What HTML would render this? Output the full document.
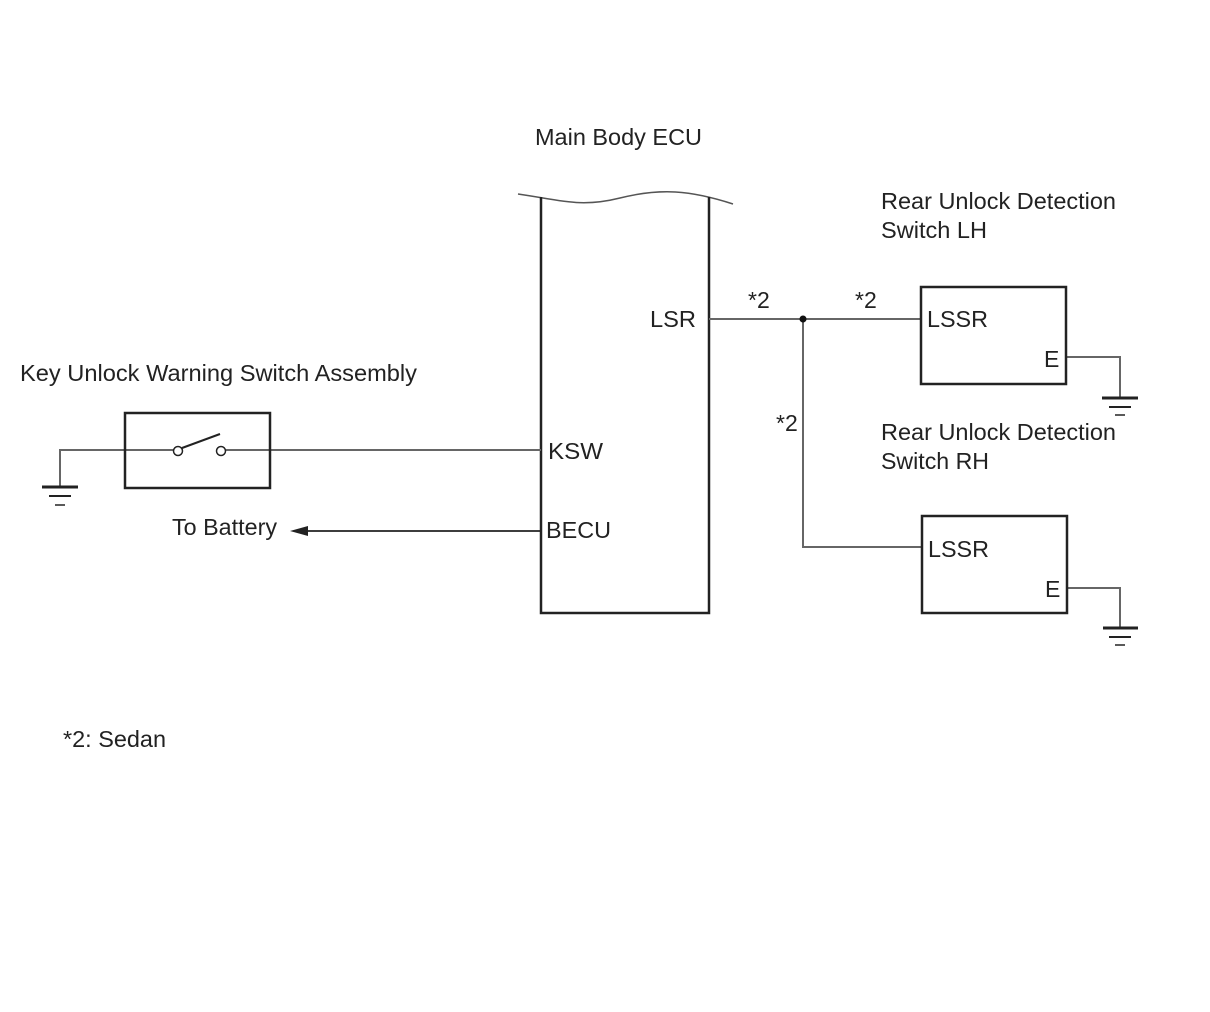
<!DOCTYPE html>
<html><head><meta charset="utf-8"><style>
html,body{margin:0;padding:0;background:#fff;}
svg{display:block;}
text{font-family:"Liberation Sans",Arial,sans-serif;font-size:23px;fill:#222;}
</style></head><body>
<svg width="1210" height="1012" viewBox="0 0 1210 1012" xmlns="http://www.w3.org/2000/svg">
<rect width="1210" height="1012" fill="#fff"/>
<!-- ECU -->
<path d="M518 194 C560 200,580 208,620 198 S690 190,733 204" fill="none" stroke="#555" stroke-width="1.5"/>
<path d="M541 197 V613 H709 V197" fill="none" stroke="#222" stroke-width="2.5"/>
<text x="535" y="145" textLength="167" lengthAdjust="spacingAndGlyphs">Main Body ECU</text>
<text x="650" y="327" textLength="46" lengthAdjust="spacingAndGlyphs">LSR</text>
<text x="548" y="459" textLength="55" lengthAdjust="spacingAndGlyphs">KSW</text>
<text x="546" y="538" textLength="65" lengthAdjust="spacingAndGlyphs">BECU</text>
<!-- wiring -->
<g stroke="#666" stroke-width="2" fill="none">
<path d="M709 319 H921"/>
<path d="M803 319 V547 H922"/>
<path d="M1066 357 H1120 V398"/>
<path d="M1067 588 H1120 V628"/>
<path d="M60 487 V450 H174 M226 450 H541"/>
</g>
<circle cx="803" cy="319" r="3.5" fill="#111"/>
<text x="748" y="308" font-size="20">*2</text>
<text x="855" y="308" font-size="20">*2</text>
<text x="776" y="431" font-size="20">*2</text>
<!-- LH box -->
<rect x="921" y="287" width="145" height="97" fill="none" stroke="#222" stroke-width="2.5"/>
<text x="927" y="327" textLength="61" lengthAdjust="spacingAndGlyphs">LSSR</text>
<text x="1044" y="367">E</text>
<text x="881" y="209" textLength="235" lengthAdjust="spacingAndGlyphs">Rear Unlock Detection</text>
<text x="881" y="238" textLength="106" lengthAdjust="spacingAndGlyphs">Switch LH</text>
<!-- RH box -->
<rect x="922" y="516" width="145" height="97" fill="none" stroke="#222" stroke-width="2.5"/>
<text x="928" y="557" textLength="61" lengthAdjust="spacingAndGlyphs">LSSR</text>
<text x="1045" y="597">E</text>
<text x="881" y="440" textLength="235" lengthAdjust="spacingAndGlyphs">Rear Unlock Detection</text>
<text x="881" y="469" textLength="108" lengthAdjust="spacingAndGlyphs">Switch RH</text>
<!-- grounds -->
<g stroke="#222">
<path d="M1102 398 H1138" stroke-width="3"/><path d="M1109 407 H1131" stroke-width="2"/><path d="M1115 415 H1125" stroke-width="1.5"/>
<path d="M1103 628 H1138" stroke-width="3"/><path d="M1109 637 H1131" stroke-width="2"/><path d="M1115 645 H1125" stroke-width="1.5"/>
<path d="M42 487 H78" stroke-width="3"/><path d="M49 496 H71" stroke-width="2"/><path d="M55 505 H65" stroke-width="1.5"/>
</g>
<!-- key switch -->
<rect x="125" y="413" width="145" height="75" fill="none" stroke="#222" stroke-width="2.5"/>
<circle cx="178" cy="451" r="4.5" fill="#fff" stroke="#222" stroke-width="1.5"/>
<circle cx="221" cy="451" r="4.5" fill="#fff" stroke="#222" stroke-width="1.5"/>
<path d="M182 448 L220 434" stroke="#222" stroke-width="2"/>
<text x="20" y="381" textLength="397" lengthAdjust="spacingAndGlyphs">Key Unlock Warning Switch Assembly</text>
<!-- battery -->
<path d="M541 531 H300" stroke="#222" stroke-width="1.8"/>
<path d="M290 531 L308 526 L308 536 Z" fill="#222"/>
<text x="172" y="535" textLength="105" lengthAdjust="spacingAndGlyphs">To Battery</text>
<text x="63" y="747" textLength="103" lengthAdjust="spacingAndGlyphs">*2: Sedan</text>
</svg>
</body></html>
